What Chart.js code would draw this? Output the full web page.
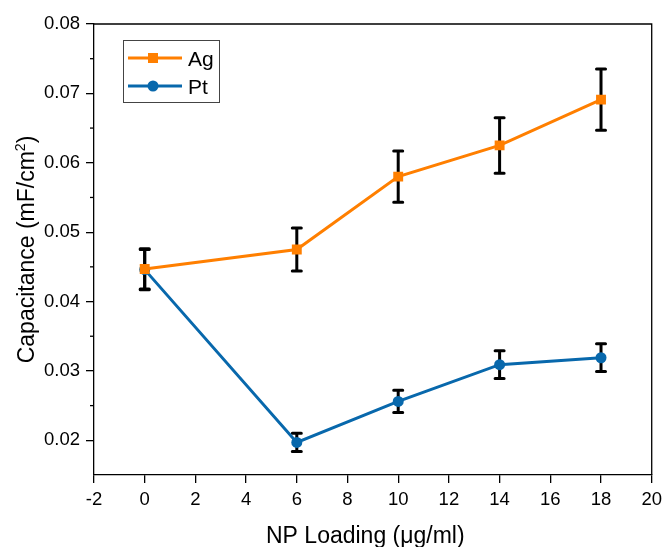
<!DOCTYPE html>
<html>
<head>
<meta charset="utf-8">
<script src="https://cdn.jsdelivr.net/npm/chart.js@4/dist/chart.umd.min.js"></script>
<style>
html,body{margin:0;padding:0;background:#fff;}
#wrap{width:668px;height:547px;position:relative;}
</style>
</head>
<body>
<div id="wrap"><canvas id="c" width="668" height="547"></canvas></div>
<script>
const loading = [0, 6, 10, 14, 18];
const agValues = [0.0447, 0.0475, 0.0580, 0.0625, 0.0691];
const agErrors = [0.0029, 0.0031, 0.0037, 0.0040, 0.0044];
const ptValues = [0.0446, 0.0197, 0.0256, 0.0309, 0.0319];
const ptErrors = [0.0029, 0.0013, 0.0016, 0.0020, 0.0020];
const seriesNames = ['Ag', 'Pt'];
const xTitle = 'NP Loading (\u03bcg/ml)';
const yTitleMain = 'Capacitance (mF/cm';
const yTitleSup = '2';
const yTitleEnd = ')';

const ORANGE = '#ff7f00';
const BLUE = '#0868ac';
const FONT = "'Liberation Sans', Arial, sans-serif";

function toPoints(xs, ys){ return xs.map((x,i)=>({x:x, y:ys[i]})); }

const errorBars = {
  id:'errorBars',
  beforeDatasetsDraw(chart){
    const ctx = chart.ctx;
    const xs = chart.scales.x, ys = chart.scales.y;
    const errs = [agErrors, ptErrors];
    ctx.save();
    ctx.strokeStyle = '#000';
    ctx.lineWidth = 3;
    ctx.lineCap = 'round';
    chart.data.datasets.forEach((ds, di) => {
      ds.data.forEach((p, i) => {
        const px = xs.getPixelForValue(p.x);
        const top = ys.getPixelForValue(p.y + errs[di][i]);
        const bot = ys.getPixelForValue(p.y - errs[di][i]);
        ctx.beginPath();
        ctx.moveTo(px, top); ctx.lineTo(px, bot);
        ctx.moveTo(px-4.5, top); ctx.lineTo(px+4.5, top);
        ctx.moveTo(px-4.5, bot); ctx.lineTo(px+4.5, bot);
        ctx.stroke();
      });
    });
    ctx.restore();
  }
};

const frameAndLegend = {
  id:'frameAndLegend',
  afterDraw(chart){
    const ctx = chart.ctx;
    const a = chart.chartArea;
    const ys = chart.scales.y;
    ctx.save();
    // frame top and right
    ctx.strokeStyle = '#000';
    ctx.lineWidth = 1.3;
    ctx.beginPath();
    ctx.moveTo(a.left, a.top); ctx.lineTo(a.right, a.top); ctx.lineTo(a.right, a.bottom);
    ctx.stroke();
    // minor y ticks
    ys.ticks.forEach(t => {
      const m = Math.round(t.value*1000);
      if (m % 10 !== 0 && m > 15) {
        const py = ys.getPixelForValue(t.value);
        ctx.beginPath();
        ctx.moveTo(a.left - 4, py); ctx.lineTo(a.left, py);
        ctx.stroke();
      }
    });
    // axis titles
    ctx.fillStyle = '#000';
    ctx.textBaseline = 'alphabetic';
    ctx.textAlign = 'left';
    ctx.font = '23px ' + FONT;
    ctx.fillText(xTitle, 266, 543);
    // y title with superscript
    ctx.save();
    ctx.translate(34, 249.5);
    ctx.rotate(-Math.PI/2);
    ctx.font = '23px ' + FONT;
    const w1 = ctx.measureText(yTitleMain).width;
    const w3 = ctx.measureText(yTitleEnd).width;
    ctx.font = '14px ' + FONT;
    const w2 = ctx.measureText(yTitleSup).width;
    const total = w1 + w2 + w3;
    let x0 = -total/2;
    ctx.font = '23px ' + FONT;
    ctx.fillText(yTitleMain, x0, 0);
    ctx.font = '14px ' + FONT;
    ctx.fillText(yTitleSup, x0 + w1, -9);
    ctx.font = '23px ' + FONT;
    ctx.fillText(yTitleEnd, x0 + w1 + w2, 0);
    ctx.restore();
    // legend
    const lx = 123, ly = 40, lw = 96, lh = 62;
    ctx.lineWidth = 1;
    ctx.strokeStyle = '#444';
    ctx.strokeRect(lx+0.5, ly+0.5, lw, lh);
    const rows = [58, 86];
    chart.data.datasets.forEach((ds, i) => {
      const y = rows[i];
      ctx.strokeStyle = ds.borderColor;
      ctx.lineWidth = 3;
      ctx.beginPath(); ctx.moveTo(128, y); ctx.lineTo(182, y); ctx.stroke();
      ctx.fillStyle = ds.borderColor;
      if (i === 0) { ctx.fillRect(148, y-5, 10, 10); }
      else { ctx.beginPath(); ctx.arc(153, y, 5.5, 0, Math.PI*2); ctx.fill(); }
      ctx.fillStyle = '#000';
      ctx.font = '21px ' + FONT;
      ctx.textBaseline = 'alphabetic';
      ctx.textAlign = 'left';
      ctx.fillText(ds.label, 188, y+7.5);
    });
    ctx.restore();
  }
};

new Chart(document.getElementById('c'), {
  type: 'line',
  data: {
    datasets: [
      { label: seriesNames[0], data: toPoints(loading, agValues), borderColor: ORANGE, backgroundColor: ORANGE,
        borderWidth: 3, pointStyle: 'rect', pointRadius: 7, pointBorderWidth: 0, pointHoverRadius: 7 },
      { label: seriesNames[1], data: toPoints(loading, ptValues), borderColor: BLUE, backgroundColor: BLUE,
        borderWidth: 3, pointStyle: 'circle', pointRadius: 5.5, pointBorderWidth: 0, pointHoverRadius: 5.5 }
    ]
  },
  options: {
    responsive: false,
    devicePixelRatio: 1,
    animation: false,
    layout: { padding: { top: 24, right: 13, left: 0, bottom: 0 } },
    plugins: { legend: { display: false }, tooltip: { enabled: false } },
    scales: {
      x: {
        type: 'linear', min: -2, max: 20,
        ticks: { stepSize: 2, color: '#000', font: { family: FONT, size: 18.5 }, padding: 6, maxRotation: 0 },
        grid: { drawOnChartArea: false, drawTicks: true, tickLength: 8, color: '#000', lineWidth: 1.3 },
        border: { display: true, color: '#000', width: 1.3 },
        title: { display: false },
        afterFit(s){ s.height = 72; }
      },
      y: {
        type: 'linear', min: 0.015, max: 0.08,
        ticks: { stepSize: 0.005, color: '#000', font: { family: FONT, size: 18.5 }, padding: 6,
          callback: v => (Math.round(v*1000) % 10 === 0 ? v.toFixed(2) : '') },
        grid: { drawOnChartArea: false, drawTicks: true, tickLength: 8, lineWidth: 1.3,
          color: c => (c.tick && Math.round(c.tick.value*1000) % 10 === 0 ? '#000' : 'rgba(0,0,0,0)') },
        border: { display: true, color: '#000', width: 1.3 },
        title: { display: false },
        afterFit(s){ s.width = 94; }
      }
    }
  },
  plugins: [errorBars, frameAndLegend]
});
</script>
</body>
</html>
